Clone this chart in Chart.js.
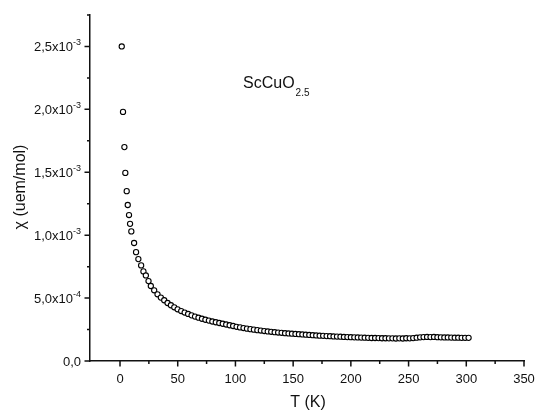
<!DOCTYPE html>
<html>
<head>
<meta charset="utf-8">
<script src="https://cdn.jsdelivr.net/npm/chart.js@4"></script>
<style>
  html, body { margin: 0; padding: 0; background: #fff; }
  #wrap { width: 536px; height: 412px; }
</style>
</head>
<body>
<div id="wrap"><canvas id="chart" width="536" height="412"></canvas></div>
<script>
// ================= DATA =================
// temperature (K)
const temps = [
  1.5, 2.6, 3.8, 4.6, 5.8, 6.7, 7.8, 8.7, 9.8, 12.2,
  13.9, 15.9, 18.3, 20.3, 22.4, 24.7, 26.7, 29.6, 32.5, 35.4,
  38.3, 41.2, 44.1, 47.0, 49.9, 53, 56, 59, 62, 65,
  68, 71, 74, 77, 80, 83, 86, 89, 92, 95,
  98, 101, 104, 107, 110, 113, 116, 119, 122, 125,
  128, 131, 134, 137, 140, 143, 146, 149, 152, 155,
  158, 161, 164, 167, 170, 173, 176, 179, 182, 185,
  188, 191, 194, 197, 200, 203, 206, 209, 212, 215,
  218, 221, 224, 227, 230, 233, 236, 239, 242, 245,
  248, 251, 254, 257, 260, 263, 266, 269, 272, 275,
  278, 281, 284, 287, 290, 293, 296, 299, 302
];
// susceptibility chi (uem/mol)
const chi = [
  25.0e-4, 19.8e-4, 17.0e-4, 14.95e-4, 13.5e-4, 12.4e-4, 11.6e-4, 10.9e-4, 10.3e-4, 9.38e-4,
  8.65e-4, 8.10e-4, 7.60e-4, 7.12e-4, 6.80e-4, 6.35e-4, 5.96e-4, 5.62e-4, 5.30e-4, 5.04e-4,
  4.83e-4, 4.61e-4, 4.43e-4, 4.27e-4, 4.11e-4, 3.97e-4, 3.85e-4, 3.74e-4, 3.63e-4, 3.53e-4,
  3.44e-4, 3.36e-4, 3.28e-4, 3.21e-4, 3.14e-4, 3.08e-4, 3.02e-4, 2.96e-4, 2.90e-4, 2.84e-4,
  2.78e-4, 2.72e-4, 2.67e-4, 2.62e-4, 2.57e-4, 2.53e-4, 2.49e-4, 2.45e-4, 2.42e-4, 2.38e-4,
  2.35e-4, 2.32e-4, 2.29e-4, 2.26e-4, 2.24e-4, 2.21e-4, 2.19e-4, 2.17e-4, 2.15e-4, 2.13e-4,
  2.11e-4, 2.09e-4, 2.07e-4, 2.05e-4, 2.03e-4, 2.01e-4, 2.00e-4, 1.98e-4, 1.97e-4, 1.95e-4,
  1.94e-4, 1.93e-4, 1.91e-4, 1.90e-4, 1.89e-4, 1.88e-4, 1.87e-4, 1.86e-4, 1.85e-4, 1.84e-4,
  1.83e-4, 1.83e-4, 1.82e-4, 1.81e-4, 1.81e-4, 1.80e-4, 1.80e-4, 1.79e-4, 1.80e-4, 1.79e-4,
  1.81e-4, 1.80e-4, 1.82e-4, 1.85e-4, 1.88e-4, 1.90e-4, 1.91e-4, 1.90e-4, 1.91e-4, 1.89e-4,
  1.88e-4, 1.87e-4, 1.87e-4, 1.86e-4, 1.85e-4, 1.85e-4, 1.84e-4, 1.84e-4, 1.84e-4
];

// axis ticks
const xTicks = [0, 50, 100, 150, 200, 250, 300, 350];
const xMinor = [25, 75, 125, 175, 225, 275, 325];
const yTicks = [0, 5e-4, 1e-3, 1.5e-3, 2e-3, 2.5e-3];
const yMinor = [2.5e-4, 7.5e-4, 1.25e-3, 1.75e-3, 2.25e-3, 2.75e-3];
const yTickLabels = ["0,0", "5,0x10", "1,0x10", "1,5x10", "2,0x10", "2,5x10"];
const yTickExps = ["", "-4", "-3", "-3", "-3", "-3"];

const FONT = "'Liberation Sans', Arial, sans-serif";

// ================= AXES / LABELS PLUGIN =================
const axesPlugin = {
  id: "axesPlugin",
  afterDraw(chart) {
    const ctx = chart.ctx;
    const xs = chart.scales.x;
    const ys = chart.scales.y;
    const left = chart.chartArea.left;
    const bottom = chart.chartArea.bottom;

    ctx.save();
    ctx.strokeStyle = "#111";
    ctx.lineWidth = 1.5;
    ctx.fillStyle = "#111";

    // x ticks
    ctx.beginPath();
    xTicks.forEach(v => {
      const px = xs.getPixelForValue(v);
      ctx.moveTo(px, bottom);
      ctx.lineTo(px, bottom + 5.5);
    });
    xMinor.forEach(v => {
      const px = xs.getPixelForValue(v);
      ctx.moveTo(px, bottom);
      ctx.lineTo(px, bottom + 3);
    });
    // y ticks
    yTicks.forEach(v => {
      const py = ys.getPixelForValue(v);
      ctx.moveTo(left - 5.5, py);
      ctx.lineTo(left, py);
    });
    yMinor.forEach(v => {
      const py = ys.getPixelForValue(v);
      ctx.moveTo(left - 3, py);
      ctx.lineTo(left, py);
    });
    ctx.stroke();

    // x tick labels
    ctx.font = "13px " + FONT;
    ctx.textAlign = "center";
    ctx.textBaseline = "middle";
    xTicks.forEach(v => {
      ctx.fillText(String(v), xs.getPixelForValue(v), bottom + 18);
    });

    // y tick labels with superscript exponent
    const rightEdge = left - 9;
    yTicks.forEach((v, i) => {
      const py = ys.getPixelForValue(v);
      ctx.font = "9px " + FONT;
      const expW = yTickExps[i] ? ctx.measureText(yTickExps[i]).width : 0;
      ctx.textAlign = "left";
      ctx.textBaseline = "alphabetic";
      if (yTickExps[i]) ctx.fillText(yTickExps[i], rightEdge - expW, py - 1.5);
      ctx.font = "13px " + FONT;
      ctx.textAlign = "right";
      ctx.textBaseline = "middle";
      ctx.fillText(yTickLabels[i], rightEdge - expW, py + 1);
    });

    // axis titles
    ctx.font = "16px " + FONT;
    ctx.textAlign = "center";
    ctx.textBaseline = "middle";
    ctx.fillText("T (K)", 308, 403);

    ctx.save();
    ctx.translate(21, 187);
    ctx.rotate(-Math.PI / 2);
    ctx.fillText("\u03c7 (uem/mol)", 0, 0);
    ctx.restore();

    // annotation
    ctx.textAlign = "left";
    ctx.textBaseline = "alphabetic";
    ctx.font = "16px " + FONT;
    ctx.fillText("ScCuO", 243, 88);
    const w = ctx.measureText("ScCuO").width;
    ctx.font = "10px " + FONT;
    ctx.fillText("2.5", 243 + w + 1, 96);

    ctx.restore();
  }
};

// ================= CHART =================
const ctx1 = document.getElementById("chart").getContext("2d");

new Chart(ctx1, {
  type: "scatter",
  data: {
    datasets: [{
      label: "ScCuO2.5",
      data: temps.map((t, i) => ({ x: t, y: chi[i] })),
      pointRadius: 2.6,
      pointBorderWidth: 1.1,
      pointBorderColor: "#000",
      pointBackgroundColor: "#fff",
      showLine: false
    }]
  },
  options: {
    responsive: false,
    animation: false,
    devicePixelRatio: 1,
    layout: { padding: { top: 15, right: 12, left: 0, bottom: 0 } },
    plugins: {
      legend: { display: false },
      tooltip: { enabled: false }
    },
    scales: {
      x: {
        type: "linear",
        min: -26,
        max: 350,
        grid: { display: false },
        ticks: { display: false },
        border: { display: true, color: "#111", width: 1.5 },
        afterFit: s => { s.height = 51; }
      },
      y: {
        type: "linear",
        min: 0,
        max: 2.75e-3,
        grid: { display: false },
        ticks: { display: false },
        border: { display: true, color: "#111", width: 1.5 },
        afterFit: s => { s.width = 90; }
      }
    }
  },
  plugins: [axesPlugin]
});
</script>
</body>
</html>
